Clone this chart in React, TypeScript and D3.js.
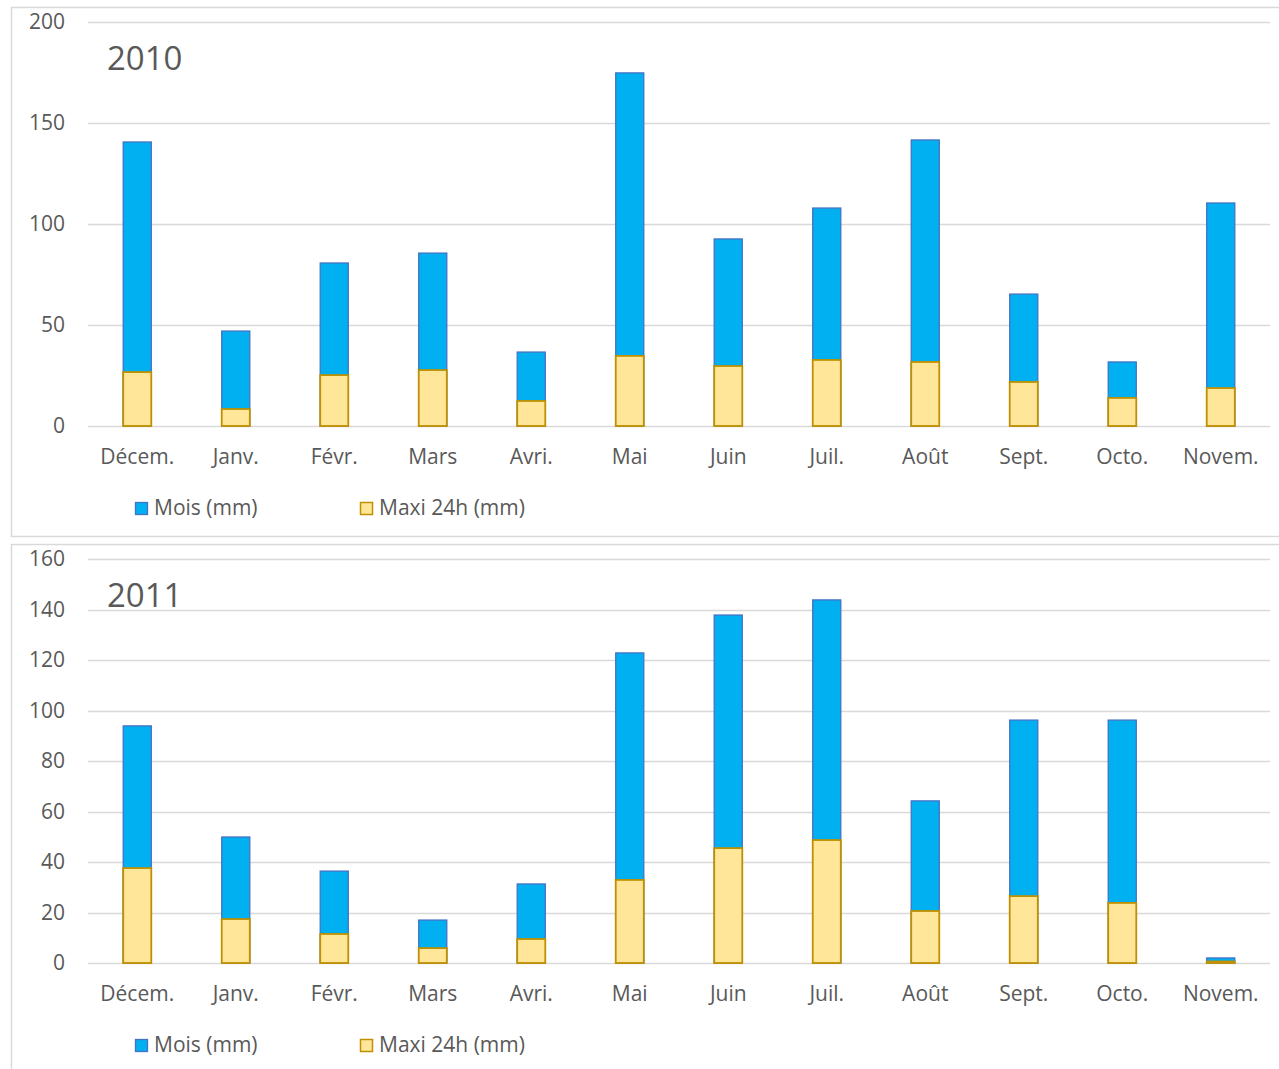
import React from "react";
import * as d3 from "d3";

const categories = ["Décem.", "Janv.", "Févr.", "Mars", "Avri.", "Mai", "Juin", "Juil.", "Août", "Sept.", "Octo.", "Novem."];
const mois2010 = [140.6, 47, 80.7, 85.6, 36.6, 174.8, 92.6, 107.9, 141.6, 65.3, 31.7, 110.4];
const maxi2010 = [26.7, 8.4, 25.2, 27.7, 12.4, 34.7, 29.7, 32.7, 31.7, 21.8, 13.9, 18.8];
const mois2011 = [93.9, 49.9, 36.4, 17.0, 31.3, 122.8, 137.8, 143.8, 64.2, 96.2, 96.2, 2.0];
const maxi2011 = [37.6, 17.4, 11.5, 5.9, 9.5, 32.9, 45.5, 48.7, 20.6, 26.5, 23.8, 0.6];
const ticks2010 = [0, 50, 100, 150, 200];
const ticks2011 = [0, 20, 40, 60, 80, 100, 120, 140, 160];
const legendLabels = ["Mois (mm)", "Maxi 24h (mm)"];

const FONT = "'Open Sans', sans-serif";
const TXT = "#595959";
const GRID = "#d9d9d9";
const BLUE = "#00B0F0";
const BLUE_STROKE = "#4472C4";
const YEL = "#FFE699";
const YEL_STROKE = "#BF9000";
const FS = 21;

function Panel({ offset, title, mois, maxi, ticks, yMax, boxTop, boxBottom }: any) {
  const x = d3.scaleBand<string>().domain(categories).range([88, 1270]).paddingInner(0.715).paddingOuter(0.3575);
  const y = d3.scaleLinear().domain([0, yMax]).range([426 + offset, 22 + offset]);
  const bw = x.bandwidth();
  return (
    <g>
      <rect x={11.5} y={boxTop + 0.5} width={1290} height={boxBottom - boxTop} fill="white" stroke={GRID} strokeWidth={1.5} />
      {ticks.map((t: number) => (
        <g key={t}>
          <line x1={88} x2={1270} y1={Math.round(y(t)) + 0.5} y2={Math.round(y(t)) + 0.5} stroke={GRID} strokeWidth={1.3} />
          <text x={65} y={y(t)} dy="0.35em" textAnchor="end" fontSize={FS} fill={TXT} fontFamily={FONT}>{t}</text>
        </g>
      ))}
      {categories.map((c, i) => (
        <g key={c}>
          <rect x={x(c)!} y={y(mois[i])} width={bw} height={y(0) - y(mois[i])} fill={BLUE} stroke={BLUE_STROKE} strokeWidth={1.3} />
          <rect x={x(c)!} y={y(maxi[i])} width={bw} height={y(0) - y(maxi[i])} fill={YEL} stroke={YEL_STROKE} strokeWidth={1.8} />
          <text x={x(c)! + bw / 2} y={457 + offset} dy="0.35em" textAnchor="middle" fontSize={FS} fill={TXT} fontFamily={FONT}>{c}</text>
        </g>
      ))}
      <text x={107} y={58 + offset} dy="0.35em" fontSize={33} fill={TXT} fontFamily={FONT}>{title}</text>
      <rect x={135.5} y={502.5 + offset} width={12} height={12} fill={BLUE} stroke={BLUE_STROKE} strokeWidth={1.3} />
      <text x={154} y={508 + offset} dy="0.35em" fontSize={FS} fill={TXT} fontFamily={FONT}>{legendLabels[0]}</text>
      <rect x={360.5} y={502.5 + offset} width={12} height={12} fill={YEL} stroke={YEL_STROKE} strokeWidth={1.5} />
      <text x={379} y={508 + offset} dy="0.35em" fontSize={FS} fill={TXT} fontFamily={FONT}>{legendLabels[1]}</text>
    </g>
  );
}

export default function App() {
  return (
    <svg width={1279} height={1069} style={{ position: "absolute", left: 0, top: 0 }}>
      <rect width={1279} height={1069} fill="white" />
      <Panel offset={0} title="2010" mois={mois2010} maxi={maxi2010} ticks={ticks2010} yMax={200} boxTop={7} boxBottom={536} />
      <Panel offset={537} title="2011" mois={mois2011} maxi={maxi2011} ticks={ticks2011} yMax={160} boxTop={544} boxBottom={1090} />
    </svg>
  );
}
